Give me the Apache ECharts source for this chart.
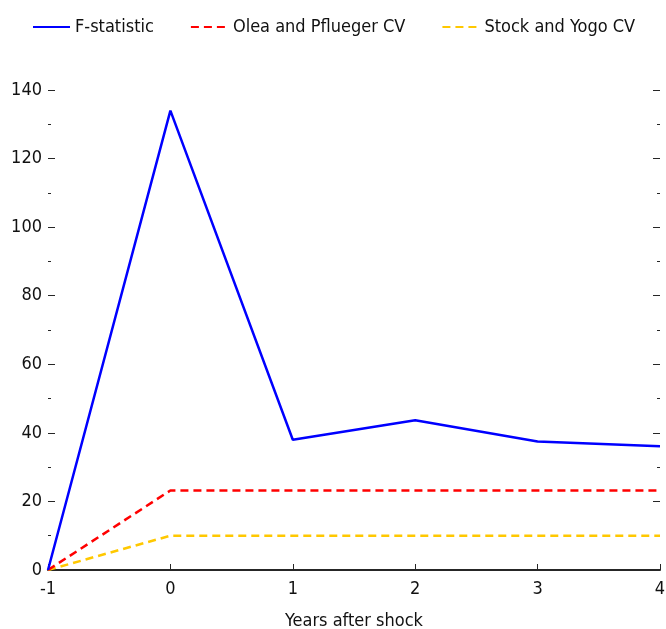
<!DOCTYPE html>
<html><head><meta charset="utf-8">
<script src="https://cdn.jsdelivr.net/npm/echarts@6/dist/echarts.min.js"></script>
<style>html,body{margin:0;padding:0;background:#fff}#c{width:666px;height:629px}</style>
</head><body><div id="c"></div>
<script>
var years = [-1, 0, 1, 2, 3, 4];
var fStat = [0, 134, 38, 43.7, 37.5, 36.1];
var oleaCV = [0, 23.2, 23.2, 23.2, 23.2, 23.2];
var stockCV = [0, 10, 10, 10, 10, 10];
var names = ['F-statistic', 'Olea and Pflueger CV', 'Stock and Yogo CV'];
var FONT = "'DejaVu Sans Condensed','Liberation Sans Narrow','Arial Narrow',sans-serif";
function pairs(v){ return years.map(function(x,i){return [x, v[i]];}); }
var chart = echarts.init(document.getElementById('c'));
var yBase = {
  type:'value', min:0, max:140, interval:20,
  axisLine:{show:false, onZero:false},
  splitLine:{show:false},
  axisTick:{show:true, inside:true, length:7, lineStyle:{color:'#262626', width:1}},
  minorTick:{show:true, splitNumber:2, length:3, lineStyle:{color:'#262626', width:1}}
};
chart.setOption({
  animation:false,
  legend:{
    top:13, left:27, itemWidth:37, itemHeight:12, itemGap:36,
    itemStyle:{opacity:0},
    textStyle:{fontFamily:FONT, fontSize:18, color:'#111'},
    data:names
  },
  grid:{left:48, right:6, top:90, bottom:59, containLabel:false, outerBoundsMode:'none'},
  xAxis:{
    type:'value', min:-1, max:4, interval:1,
    name:'Years after shock', nameLocation:'middle', nameGap:42,
    nameTextStyle:{fontFamily:FONT, fontSize:18, color:'#111'},
    axisLine:{show:true, onZero:false, lineStyle:{color:'#262626', width:2}},
    axisTick:{show:true, inside:true, length:6, lineStyle:{color:'#262626', width:1}},
    axisLabel:{fontFamily:FONT, fontSize:18, color:'#111', margin:10},
    splitLine:{show:false}
  },
  yAxis:[
    Object.assign({}, yBase, {position:'left',
      axisLabel:{fontFamily:FONT, fontSize:18, color:'#111', margin:6}}),
    Object.assign({}, yBase, {position:'right', axisLabel:{show:false}})
  ],
  series:[
    {name:names[0], type:'line', data:pairs(fStat), symbol:'none',
     lineStyle:{color:'#0000ff', width:2.5}, itemStyle:{color:'#0000ff'}, z:3},
    {name:names[1], type:'line', data:pairs(oleaCV), symbol:'none',
     lineStyle:{color:'#ff0000', width:2.5, type:[8,5]}, itemStyle:{color:'#ff0000'}, z:2},
    {name:names[2], type:'line', data:pairs(stockCV), symbol:'none',
     lineStyle:{color:'#ffc800', width:2.5, type:[8,5]}, itemStyle:{color:'#ffc800'}, z:1}
  ]
});
</script></body></html>
